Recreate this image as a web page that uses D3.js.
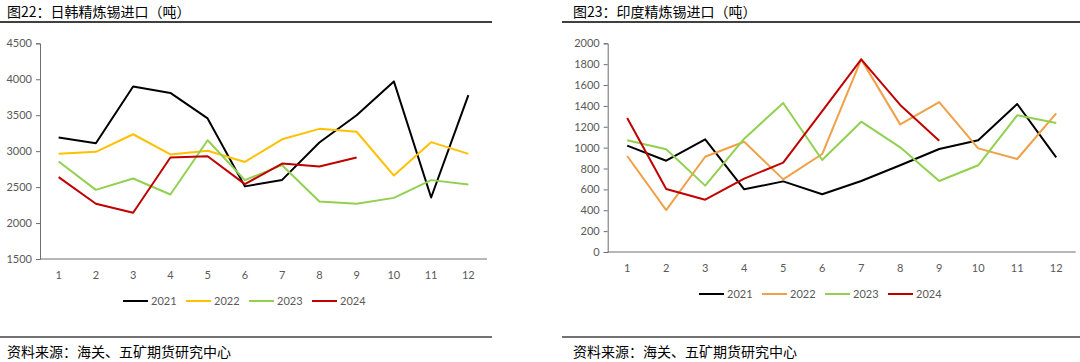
<!DOCTYPE html>
<html>
<head>
<meta charset='utf-8' />
<title>锡进口</title>
<style>
  html, body { margin: 0; padding: 0; background: #fff; }
  svg { display: block; }
  .tick text, .legend text { font-family: Lato, "Noto Sans", sans-serif; fill: #595959; }
  .cjk { font-family: "Noto Sans CJK SC", sans-serif; fill: #000; }
</style>
</head>
<body>
<svg id="chart" width="1080" height="362"></svg>
<script src="https://cdn.jsdelivr.net/npm/d3@7"></script>
<script>
const months = ['1', '2', '3', '4', '5', '6', '7', '8', '9', '10', '11', '12']
const years = ['2021', '2022', '2023', '2024']

// 日韩 (left)
const jk2021 = [3190, 3110, 3900, 3810, 3455, 2510, 2600, 3120, 3500, 3970, 2355, 3780]
const jk2022 = [2965, 2990, 3235, 2955, 3005, 2850, 3165, 3310, 3270, 2660, 3125, 2962]
const jk2023 = [2855, 2462, 2620, 2397, 3152, 2597, 2805, 2300, 2268, 2350, 2597, 2535]
const jk2024 = [2638, 2268, 2143, 2911, 2930, 2541, 2828, 2786, 2911]
const jkTicks = [1500, 2000, 2500, 3000, 3500, 4000, 4500]

// 印度 (right)
const in2021 = [1020, 875, 1080, 601, 677, 553, 680, 831, 987, 1070, 1418, 907]
const in2022 = [920, 402, 913, 1057, 696, 939, 1846, 1223, 1437, 993, 891, 1329]
const in2023 = [1070, 984, 636, 1086, 1428, 882, 1249, 1003, 680, 831, 1310, 1236]
const in2024 = [1284, 604, 501, 703, 856, 1350, 1846, 1409, 1067]
const inTicks = [0, 200, 400, 600, 800, 1000, 1200, 1400, 1600, 1800, 2000]

const titles = ['图22：日韩精炼锡进口（吨）', '图23：印度精炼锡进口（吨）']
const sourceText = '资料来源：海关、五矿期货研究中心'

const svg = d3.select('#chart')

const panels = [
  {
    title: titles[0], series: [jk2021, jk2022, jk2023, jk2024], ticks: jkTicks,
    colors: ['#000000', '#FFC000', '#92D050', '#C00000'],
    left: 0, right: 492, textX: 7,
    x0: 40, x1: 487, yTop: 43.3, yBot: 259, labelY: 279,
    legendX: 123, legendY: 301
  },
  {
    title: titles[1], series: [in2021, in2022, in2023, in2024], ticks: inTicks,
    colors: ['#000000', '#F0A048', '#92D050', '#C00000'],
    left: 562, right: 1080, textX: 573,
    x0: 607.7, x1: 1075.7, yTop: 43.3, yBot: 252, labelY: 272,
    legendX: 699, legendY: 294
  }
]

panels.forEach(p => {
  const g = svg.append('g')

  // title + rules
  g.append('text').attr('class', 'cjk')
    .attr('x', p.textX).attr('y', 17)
    .style('font-size', '14px')
    .text(p.title)
  g.append('line')
    .attr('x1', p.left).attr('x2', p.right).attr('y1', 22).attr('y2', 22)
    .attr('stroke', '#000').attr('stroke-width', 1.5)
  g.append('line')
    .attr('x1', p.left).attr('x2', p.right).attr('y1', 337).attr('y2', 337)
    .attr('stroke', '#444').attr('stroke-width', 1.5)
  g.append('text').attr('class', 'cjk')
    .attr('x', p.textX).attr('y', 357)
    .style('font-size', '14px')
    .text(sourceText)

  const x = d3.scalePoint().domain(months).range([p.x0, p.x1]).padding(0.5)
  const y = d3.scaleLinear()
    .domain([p.ticks[0], p.ticks[p.ticks.length - 1]])
    .range([p.yBot, p.yTop])

  // y axis
  const yAxis = g.append('g')
    .attr('transform', `translate(${p.x0},0)`)
    .call(d3.axisLeft(y).tickValues(p.ticks).tickFormat(d3.format('d'))
      .tickSize(4).tickSizeOuter(4).tickPadding(4))
  yAxis.select('.domain').attr('stroke', '#6e6e6e')
  yAxis.selectAll('.tick line').attr('stroke', '#6e6e6e')
  yAxis.selectAll('.tick text').style('font-size', '11px')

  // x axis line
  g.append('line')
    .attr('x1', p.x0).attr('x2', p.x1)
    .attr('y1', p.yBot).attr('y2', p.yBot)
    .attr('stroke', '#6e6e6e')

  g.selectAll('.xlab')
    .data(months)
    .enter().append('text')
    .attr('class', 'xlab')
    .attr('x', d => x(d))
    .attr('y', p.labelY)
    .attr('text-anchor', 'middle')
    .style('font-family', 'Lato, "Noto Sans", sans-serif')
    .style('font-size', '11px')
    .style('fill', '#595959')
    .text(d => d)

  const line = d3.line()
    .x((d, i) => x(months[i]))
    .y(d => y(d))

  p.series.forEach((s, k) => {
    g.append('path')
      .datum(s)
      .attr('fill', 'none')
      .attr('stroke', p.colors[k])
      .attr('stroke-width', 2)
      .attr('stroke-linejoin', 'round')
      .attr('d', line)
  })

  // legend
  const lg = g.append('g').attr('class', 'legend')
    .attr('transform', `translate(${p.legendX},${p.legendY})`)
  years.forEach((yr, k) => {
    const item = lg.append('g').attr('transform', `translate(${k * 63},0)`)
    item.append('line')
      .attr('x1', 0).attr('x2', 25).attr('y1', 0).attr('y2', 0)
      .attr('stroke', p.colors[k]).attr('stroke-width', 2)
    item.append('text')
      .attr('x', 28).attr('y', 4)
      .style('font-size', '11px')
      .text(yr)
  })
})
</script>
</body>
</html>
